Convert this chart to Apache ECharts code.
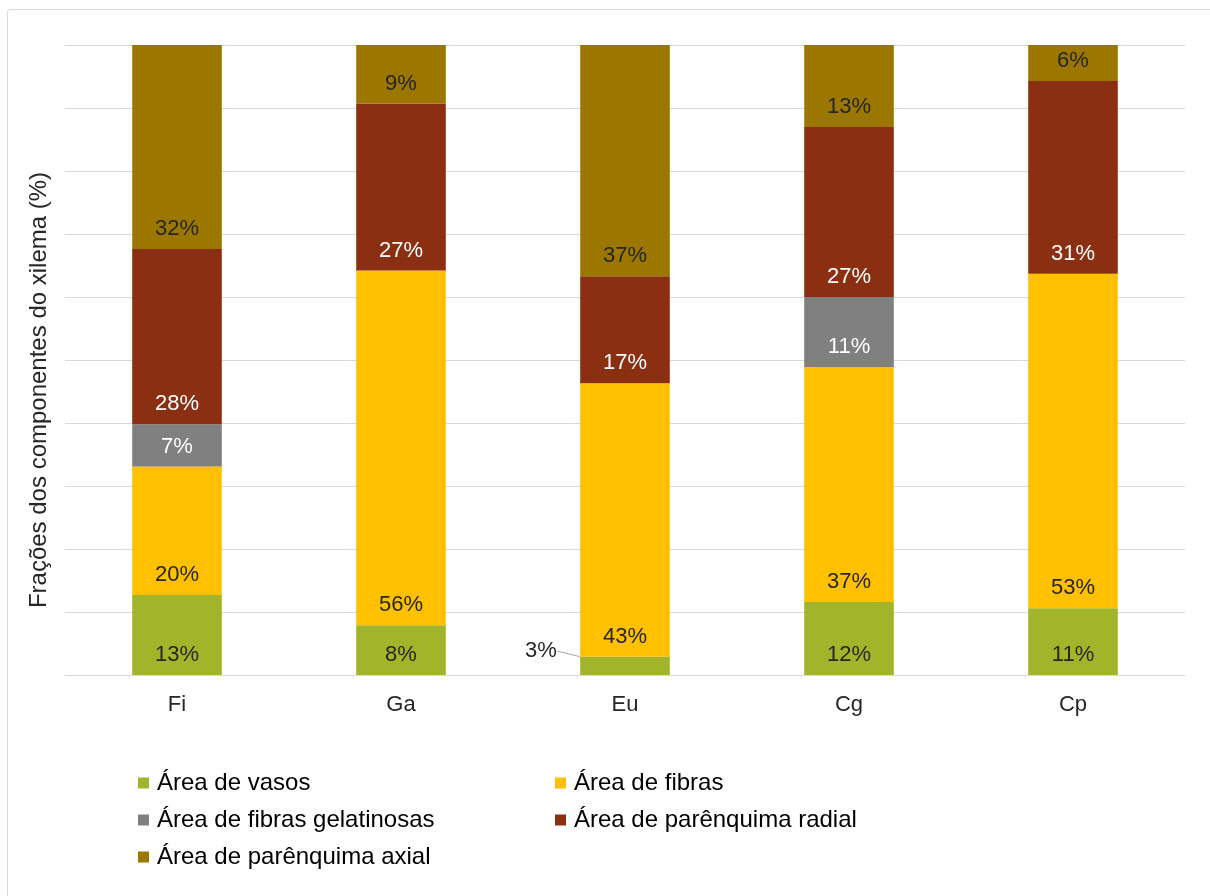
<!DOCTYPE html>
<html>
<head>
<meta charset="utf-8">
<script src="https://cdn.jsdelivr.net/npm/echarts@6/dist/echarts.min.js"></script>
<style>
  html, body { margin:0; padding:0; background:#fff; overflow:hidden; width:1210px; height:896px; }
  #frame { position:absolute; left:7px; top:9px; width:1300px; height:1000px; border:1px solid #d9d9d9; border-radius:3px; }
  #chart { position:absolute; left:0; top:0; width:1210px; height:896px; }
</style>
</head>
<body>
<div id="frame"></div>
<div id="chart"></div>
<script>
const categories = ['Fi', 'Ga', 'Eu', 'Cg', 'Cp'];
const vasos        = [12.7, 7.9, 2.9, 11.6, 10.6];
const fibras       = [20.4, 56.3, 43.4, 37.3, 53.1];
const gelatinosas  = [6.7, 0, 0, 11.1, 0];
const radial       = [27.8, 26.5, 17.0, 27.0, 30.6];
const axial        = [32.4, 9.3, 36.7, 13.0, 5.7];
const seriesNames = ['Área de vasos', 'Área de fibras', 'Área de fibras gelatinosas', 'Área de parênquima radial', 'Área de parênquima axial'];
const yAxisTitle = 'Frações dos componentes do xilema (%)';

const colors = ['#A2B52A', '#FFC000', '#808080', '#8B2F12', '#9C7700'];
const labelColors = ['#262626', '#262626', '#ffffff', '#ffffff', '#262626'];
const FONT = '"Liberation Sans", Arial, sans-serif';

const chart = echarts.init(document.getElementById('chart'), null, { renderer: 'canvas' });

function mk(idx, data) {
  return {
    name: seriesNames[idx],
    type: 'bar',
    stack: 'total',
    barWidth: '40%',
    data: data,
    itemStyle: { color: colors[idx] },
    label: {
      show: true,
      position: 'insideBottom',
      distance: 9,
      color: labelColors[idx],
      fontFamily: FONT,
      fontSize: 22,
      formatter: p => p.value > 0 ? Math.round(p.value) + '%' : ''
    },
    emphasis: { disabled: true },
    animation: false
  };
}

const s0 = mk(0, vasos);
// Eu small segment label moved out to the left with leader line
s0.labelLayout = function (params) {
  if (params.dataIndex === 2) {
    return { dx: -84, dy: -4 };
  }
  return {};
};
s0.labelLine = { show: true, lineStyle: { color: '#a6a6a6', width: 1 }, length2: 0 };

const legendCommon = {
  orient: 'vertical',
  top: 766,
  itemWidth: 11,
  itemHeight: 11,
  itemGap: 13,
  icon: 'rect',
  textStyle: { color: '#000', fontFamily: FONT, fontSize: 24, padding: [0, 0, 0, 3] },
  selectedMode: false
};

const option = {
  backgroundColor: 'transparent',
  animation: false,
  grid: { left: 65, right: 25, top: 45, bottom: 221 },
  xAxis: {
    type: 'category',
    data: categories,
    axisLine: { lineStyle: { color: '#d9d9d9', width: 1 } },
    axisTick: { show: false },
    axisLabel: { color: '#262626', fontFamily: FONT, fontSize: 22, margin: 19 }
  },
  yAxis: {
    type: 'value',
    min: 0,
    max: 100,
    interval: 10,
    name: yAxisTitle,
    nameLocation: 'middle',
    nameGap: 14,
    nameTextStyle: { color: '#262626', fontFamily: FONT, fontSize: 24, padding: [0, 60, 0, 0] },
    axisLabel: { show: false },
    axisLine: { show: false },
    axisTick: { show: false },
    splitLine: { lineStyle: { color: '#d9d9d9', width: 1 } }
  },
  legend: [
    Object.assign({}, legendCommon, { data: [seriesNames[0], seriesNames[2], seriesNames[4]], left: 133 }),
    Object.assign({}, legendCommon, { data: [seriesNames[1], seriesNames[3]], left: 550 })
  ],
  series: [s0, mk(1, fibras), mk(2, gelatinosas), mk(3, radial), mk(4, axial)]
};
chart.setOption(option);
</script>
</body>
</html>
